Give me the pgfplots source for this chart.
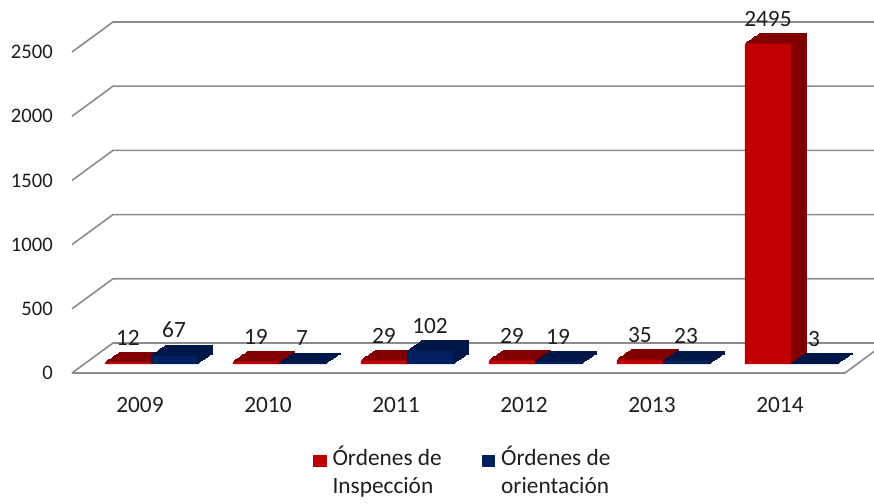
\documentclass[border=0pt]{standalone}
\usepackage{fontspec}
\setmainfont{Carlito}
\usepackage{pgfplots}
\usepackage{pgfplotstable}
\pgfplotsset{compat=1.18}
\definecolor{redF}{RGB}{192,0,0}
\definecolor{redD}{RGB}{128,0,0}
\definecolor{bluF}{RGB}{0,32,96}
\definecolor{bluD}{RGB}{0,22,70}
\definecolor{gridc}{RGB}{140,140,140}
\definecolor{txt}{RGB}{30,30,30}
\pgfplotstableread{
x ins ori
0 12 67
1 19 7
2 29 102
3 29 19
4 35 23
5 2495 3
}\datatable
\begin{document}
\begin{tikzpicture}[font=\fontsize{17.5}{21}\selectfont]
\useasboundingbox (-54pt,-97.5pt) rectangle (601.5pt,279.75pt);
\begin{axis}[
  scale only axis, width=579.75pt, height=240.75pt,
  xmin=-0.531, xmax=5.508, ymin=0, ymax=2500,
  clip=false,
  axis line style={draw=none},
  tick style={draw=none},
  major tick length=0pt,
  xtick={0,...,5}, xticklabels={2009,2010,2011,2012,2013,2014},
  ytick={0,500,...,2500},
  /pgf/number format/assume math mode=true,
  /pgf/number format/set thousands separator={},
  tick label style={text=txt},
  xticklabel style={font=\fontsize{17.5}{21}\selectfont, anchor=north, inner sep=0pt, yshift=-18pt},
  yticklabel style={font=\fontsize{15.5}{19}\selectfont, anchor=east, inner sep=0pt, xshift=-14.25pt},
  bar width=0.36,
  legend columns=2,
  legend style={draw=none, fill=none, at={(0.506,-0.209)}, anchor=north,
    cells={align=left, anchor=west}, font=\fontsize{17.5}{21}\selectfont, text=txt,
    /tikz/every odd column/.append style={column sep=2.5pt},
    /tikz/every even column/.append style={column sep=28pt}},
]
% grid lines (back wall + left diagonal)
\pgfplotsinvokeforeach{0,500,1000,1500,2000,2500}{
  \draw[gridc, line width=1.2pt] (axis cs:-0.531,#1) -- ++(30.75pt,22.5pt) -- ++(570.75pt,0pt);
}
% floor front edge + right diagonal
\draw[gridc, line width=1.2pt] (axis cs:-0.531,0) -- (axis cs:5.508,0) -- ++(23.25pt,17.25pt);
% red dark extrusion
\pgfplotsinvokeforeach{1,...,12}{
  \addplot[ybar, bar shift=-0.18, fill=redD, draw=redD, line width=0.8pt,
    xshift={8.25pt+#1*0.9375pt}, yshift={6.75pt+#1*0.625pt}, forget plot]
    table[x=x,y=ins]{\datatable};
}
\addplot[ybar, bar shift=-0.18, fill=redF, draw=none,
  xshift=8.25pt, yshift=6.75pt,
  legend image code/.code={\fill[redF] (-2pt,-4.5pt) rectangle (8pt,5pt);},
  nodes near coords,
  every node near coord/.append style={anchor=south, inner sep=0pt, yshift=12.75pt, xshift=-17.28pt,
    font=\fontsize{17.5}{21}\selectfont, text=txt,
    /pgf/number format/assume math mode=true}]
  table[x=x,y=ins]{\datatable};
\addlegendentry{Órdenes de\\Inspección}
% blue dark extrusion
\pgfplotsinvokeforeach{1,...,12}{
  \addplot[ybar, bar shift=0.18, fill=bluD, draw=bluD, line width=0.8pt,
    xshift={8.25pt+#1*0.9375pt}, yshift={6.75pt+#1*0.625pt}, forget plot]
    table[x=x,y=ori]{\datatable};
}
\addplot[ybar, bar shift=0.18, fill=bluF, draw=none,
  xshift=8.25pt, yshift=6.75pt,
  legend image code/.code={\fill[bluF] (-2pt,-4.5pt) rectangle (8pt,5pt);},
  nodes near coords,
  every node near coord/.append style={anchor=south, inner sep=0pt, yshift=12.75pt, xshift=17.28pt,
    font=\fontsize{17.5}{21}\selectfont, text=txt,
    /pgf/number format/assume math mode=true}]
  table[x=x,y=ori]{\datatable};
\addlegendentry{Órdenes de\\orientación}
\end{axis}
\end{tikzpicture}
\end{document}
